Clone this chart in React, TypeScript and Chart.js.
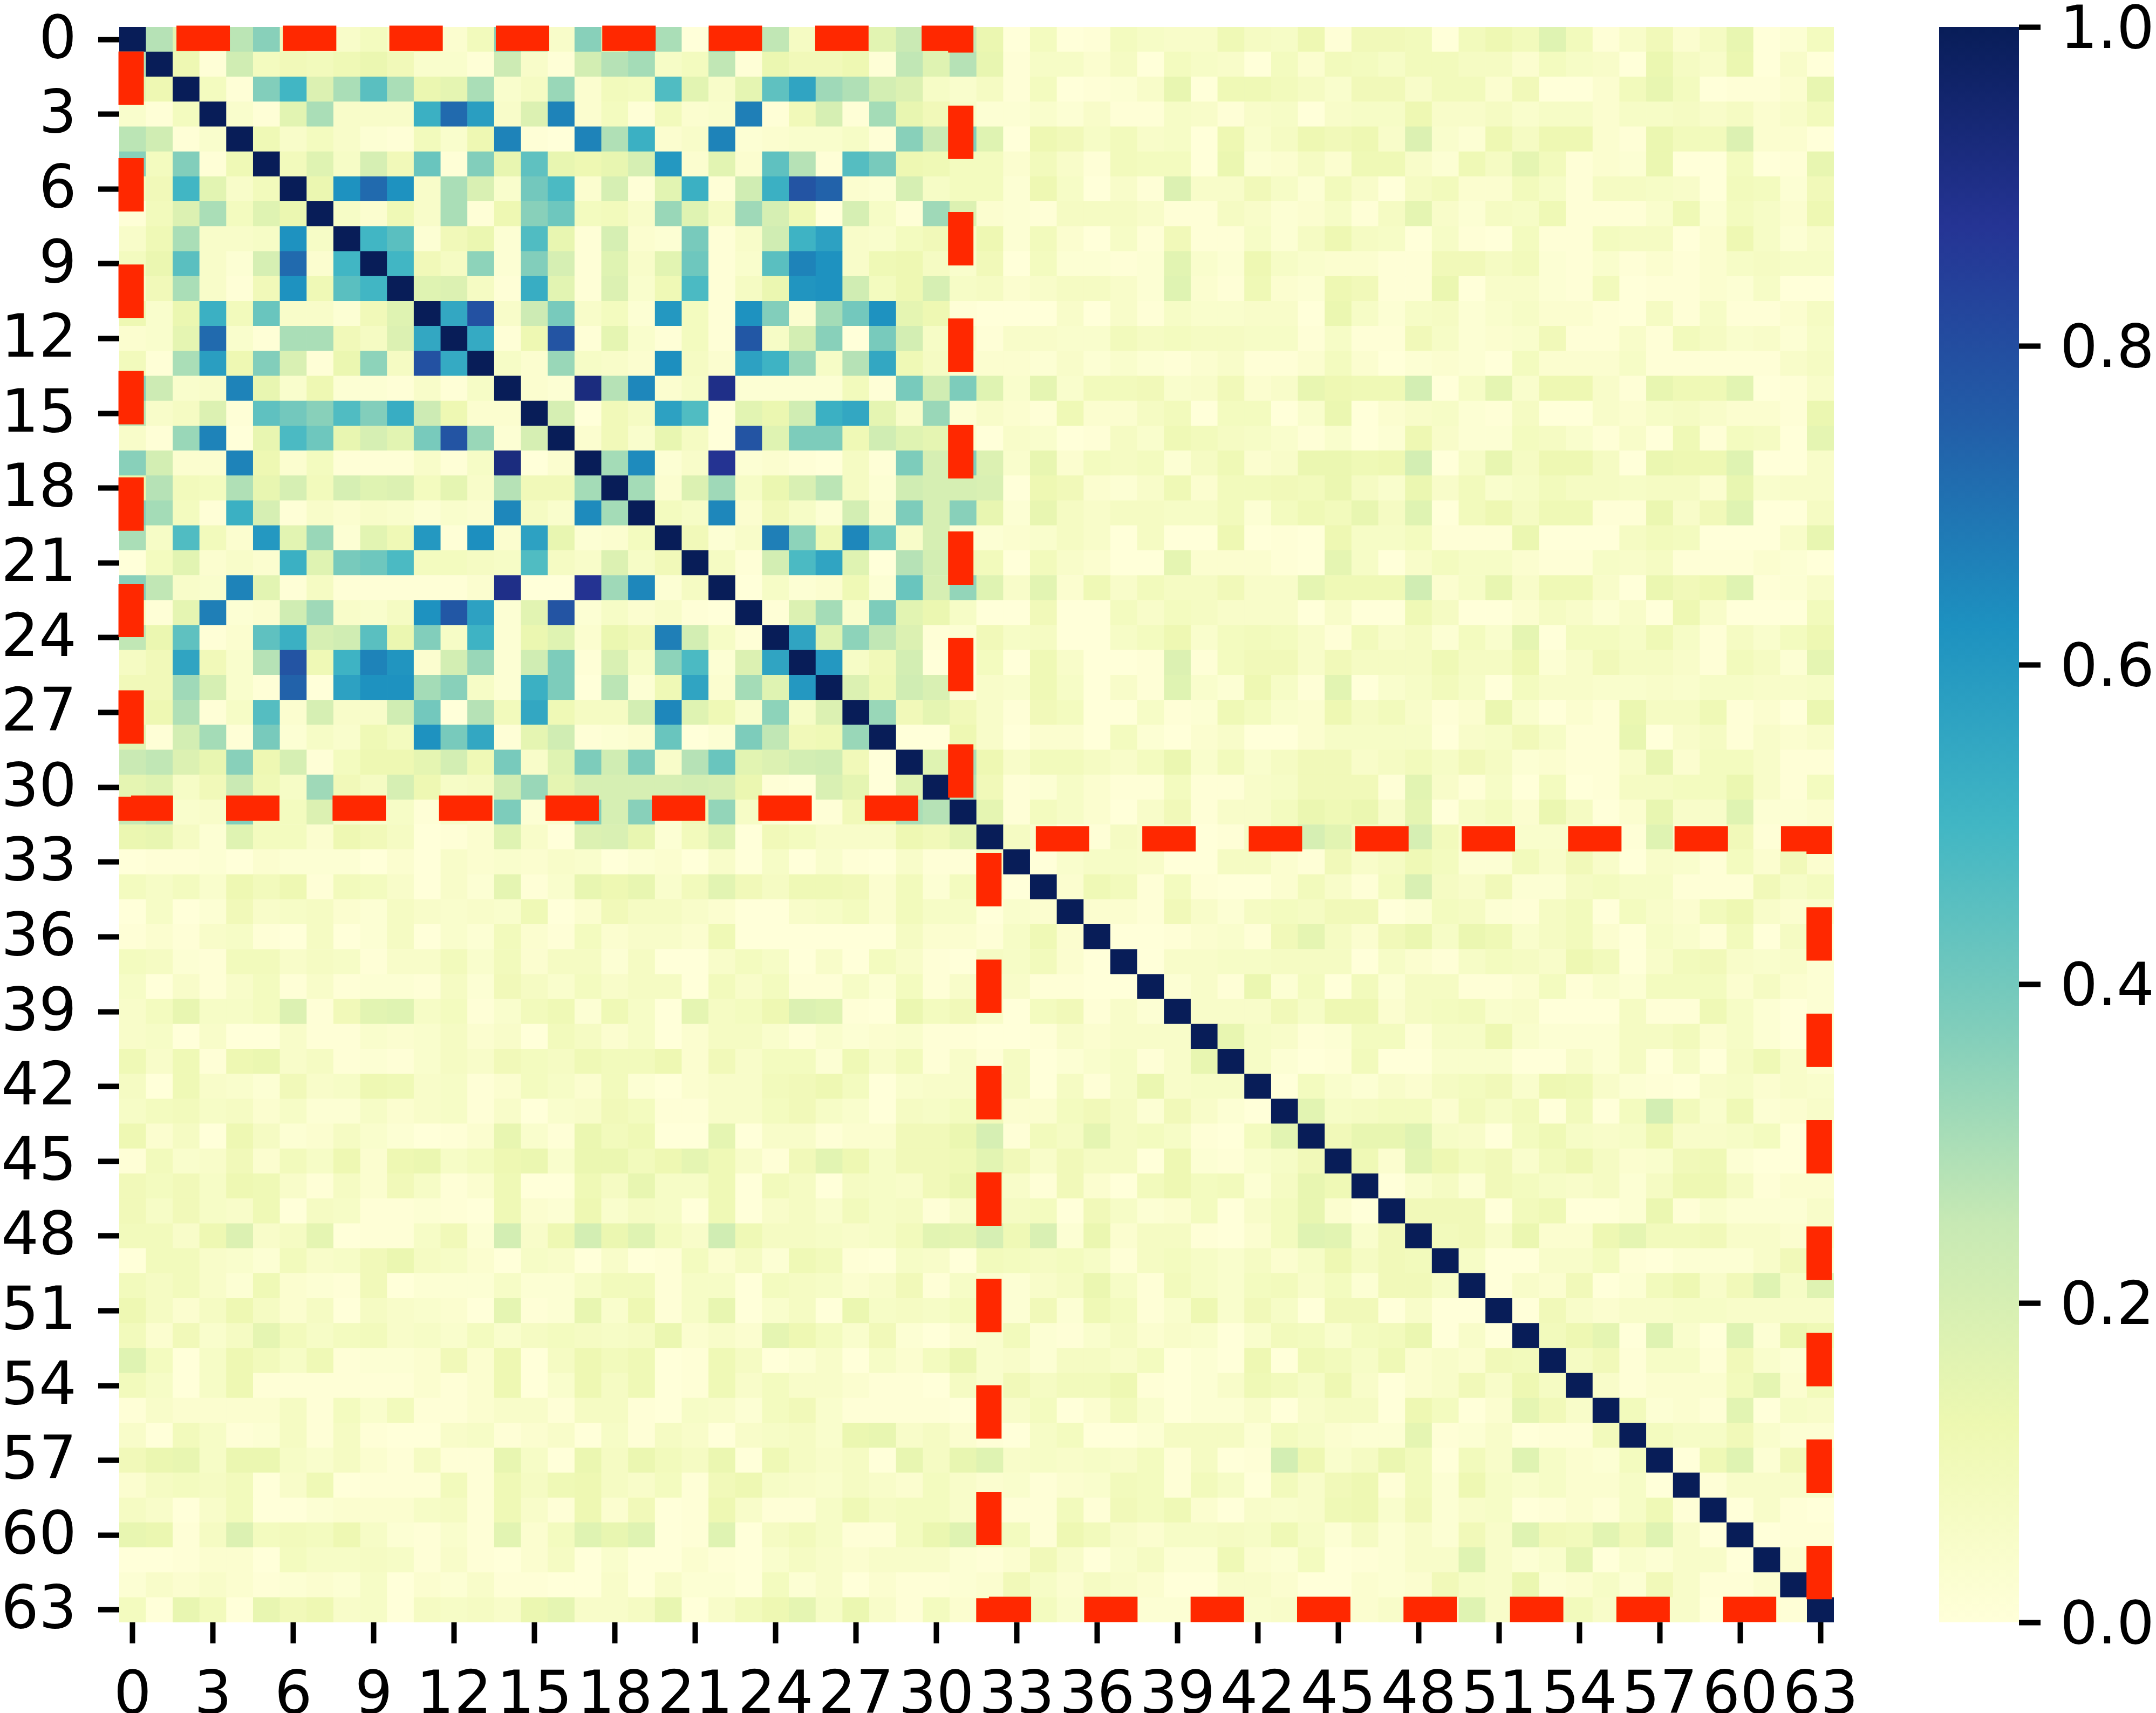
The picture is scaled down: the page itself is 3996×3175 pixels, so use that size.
import React, { useEffect, useRef } from "react";
import { Chart, registerables } from "chart.js";

Chart.register(...registerables);

// Upper triangle of the symmetric correlation matrix, in hundredths; the diagonal is 1.
// blockA: rows 0-30, columns r+1..31
const blockA: number[][] = [
  [28,16,4,27,36,8,1,5,8,5,12,3,9,36,27,5,36,13,36,30,0,36,6,26,7,10,10,16,24,15,25],
  [12,1,22,8,10,9,11,13,10,4,4,1,23,5,1,21,28,31,6,8,26,1,13,10,10,12,1,26,17,28],
  [8,1,37,50,18,30,45,30,13,15,30,4,7,33,3,9,8,47,16,5,15,44,56,32,29,21,18,6,4],
  [4,1,16,30,5,5,5,52,72,58,5,18,66,3,8,1,9,3,4,67,1,10,20,1,31,14,10,5],
  [11,5,8,5,2,1,9,4,12,66,1,0,66,29,52,3,5,66,2,3,4,4,6,1,36,24,37],
  [9,17,6,20,10,42,1,37,14,44,14,12,14,20,60,3,16,3,44,28,1,46,39,12,11,8],
  [13,62,72,62,5,30,19,4,40,48,3,20,1,16,52,1,22,52,78,74,3,2,20,6,8],
  [6,3,11,5,30,1,12,36,41,8,9,5,33,17,7,32,20,11,0,20,6,1,32,18],
  [50,45,2,10,13,2,47,14,1,20,3,2,39,1,5,22,51,57,5,4,8,10,5],
  [50,10,7,35,2,37,20,1,17,5,16,41,1,4,45,66,62,5,11,12,7,4],
  [17,18,7,1,53,16,1,18,4,11,48,1,7,13,61,62,22,8,12,20,6],
  [55,79,5,23,39,5,8,2,60,8,1,62,37,3,31,40,62,15,12,1],
  [54,1,12,78,1,15,4,1,8,1,77,6,21,36,0,39,21,6,5],
  [6,3,33,6,5,3,63,7,3,57,51,33,6,28,55,11,7,3],
  [3,2,92,28,65,3,6,90,2,2,2,2,9,1,39,22,38],
  [20,0,10,7,57,47,0,16,13,22,52,55,15,5,33,2],
  [3,10,4,14,7,0,78,17,38,38,11,22,17,15,3],
  [31,64,2,5,88,2,3,1,0,7,1,38,20,37],
  [31,3,18,32,6,13,19,27,7,2,22,20,20],
  [8,6,65,3,10,6,2,21,3,38,20,36],
  [10,2,5,67,35,11,65,42,5,20,2],
  [7,1,21,48,56,17,0,28,21,10],
  [0,6,2,3,11,2,42,20,34],
  [1,18,31,4,38,16,13,6],
  [56,17,35,26,18,1,2],
  [60,6,10,21,0,0],
  [18,11,22,19,1],
  [33,10,15,10],
  [0,0,12],
  [17,30],
  [28],
];

// crossAB: rows 0-31, columns 32-63
const crossAB: number[][] = [
  [13,0,8,0,1,8,6,5,5,11,7,6,12,1,10,10,9,0,9,12,9,17,9,1,5,10,3,7,14,0,2,8],
  [14,1,6,6,3,7,0,8,6,5,0,8,3,9,8,6,9,9,7,7,3,8,6,5,0,13,7,5,13,0,5,0],
  [7,1,8,0,1,2,5,14,0,11,11,9,7,4,10,10,5,9,9,3,10,0,0,3,9,14,8,0,1,1,3,14],
  [2,2,4,2,5,1,1,6,5,1,5,6,0,5,6,6,12,5,5,7,4,6,6,3,6,6,7,5,7,3,5,9],
  [17,0,12,10,6,9,5,6,0,12,4,7,12,10,12,5,18,4,2,12,7,12,12,3,1,13,9,9,18,3,3,0],
  [8,3,9,5,1,9,8,8,0,13,2,3,7,3,11,11,5,2,11,7,15,9,1,3,2,13,0,0,8,0,1,14],
  [8,2,12,6,0,5,1,18,5,5,10,6,2,9,5,0,7,9,3,3,9,6,1,7,7,6,5,0,9,8,2,10],
  [3,2,1,7,7,7,5,1,1,7,5,2,3,6,1,7,15,5,2,7,6,11,1,1,1,4,11,2,8,6,3,12],
  [12,2,9,3,0,6,1,10,1,1,6,2,7,12,7,6,0,6,1,0,8,1,1,8,7,7,0,3,12,6,2,5],
  [10,0,8,2,2,1,2,16,4,2,12,6,4,3,3,1,1,10,10,7,9,2,1,4,1,3,1,3,6,7,6,6],
  [7,3,5,7,7,5,2,17,3,1,11,3,2,12,10,1,1,13,0,5,5,2,1,9,0,1,1,3,2,6,0,0],
  [0,0,0,5,0,5,1,6,4,4,5,5,0,13,6,2,6,7,2,4,6,3,3,1,0,7,1,6,1,1,3,7],
  [1,5,5,4,4,9,7,8,7,7,6,6,1,6,1,1,10,6,2,3,4,10,1,1,5,1,9,7,4,5,2,6],
  [3,3,2,5,2,4,2,1,3,5,1,1,3,8,3,0,2,3,2,0,8,3,3,3,6,1,1,1,1,1,5,7],
  [17,4,15,4,9,9,10,4,5,10,3,5,14,12,11,11,21,0,6,15,4,12,12,5,1,14,11,11,16,0,1,5],
  [5,3,1,11,3,3,7,9,0,8,8,0,4,13,0,3,5,6,2,1,7,0,0,5,3,6,7,5,3,3,1,13],
  [0,5,4,0,1,7,4,11,9,7,6,4,1,4,0,2,12,5,2,2,8,7,4,1,5,0,11,1,8,7,0,15],
  [18,4,14,3,8,7,8,2,7,11,3,5,13,13,11,12,21,0,6,14,7,12,12,7,0,13,12,12,17,0,0,5],
  [19,0,12,10,3,2,5,11,3,9,9,10,9,13,7,4,13,5,9,4,6,9,7,7,6,7,7,3,14,4,5,5],
  [14,2,14,7,5,7,7,6,6,9,2,8,11,9,14,7,17,0,9,12,7,11,11,1,1,13,5,10,17,0,0,7],
  [2,3,4,7,5,0,7,0,0,12,0,1,0,12,6,6,8,1,1,1,13,0,0,0,7,9,8,0,0,0,5,14],
  [9,0,9,5,3,0,0,15,3,3,3,1,0,15,6,0,5,8,6,6,3,1,1,6,5,7,1,1,1,3,2,0],
  [17,5,16,3,11,5,9,7,7,10,5,5,15,11,11,11,22,3,6,14,5,11,11,5,0,13,10,12,17,1,2,5],
  [0,0,10,0,0,8,5,8,7,5,5,5,0,5,0,0,11,7,0,0,3,7,5,2,5,0,12,5,0,0,0,9],
  [10,6,7,0,0,6,8,12,4,8,9,8,5,1,9,5,7,2,8,4,15,0,8,8,6,11,6,1,7,4,8,12],
  [8,0,11,5,0,0,1,18,1,8,10,10,5,10,7,7,7,11,7,7,12,2,5,10,7,7,5,1,9,7,2,15],
  [5,4,11,6,0,5,1,17,4,2,12,6,1,16,0,4,6,9,6,0,8,5,5,4,4,5,4,6,6,5,5,6],
  [5,1,10,8,0,0,6,1,2,11,8,4,3,12,7,9,5,1,3,13,4,0,3,1,13,7,7,11,1,3,0,13],
  [5,0,3,3,0,8,2,0,3,5,0,0,3,6,6,6,6,0,5,6,10,6,1,1,14,0,5,7,1,5,3,5],
  [12,5,9,9,7,5,8,13,4,9,4,7,10,10,5,7,9,6,10,7,2,3,1,1,5,14,3,8,8,5,1,1],
  [10,1,2,6,3,1,1,8,1,1,5,6,10,10,10,1,16,5,1,6,0,8,0,1,7,7,8,8,13,5,1,8],
  [15,1,8,6,3,0,5,10,1,5,5,8,13,11,13,5,15,0,6,8,3,13,7,0,3,14,5,5,17,2,2,3],
];

// blockB: rows 32-62, columns r+1..63
const blockB: number[][] = [
  [7,4,0,1,7,5,5,0,1,6,10,20,16,8,8,20,9,3,3,4,4,4,4,1,17,3,3,10,1,3,4],
  [0,4,6,6,5,0,0,7,7,3,1,10,5,7,11,8,2,2,9,5,10,5,0,5,4,1,8,3,10,3],
  [3,11,9,1,8,1,0,0,3,9,5,1,8,19,7,5,10,2,2,7,8,6,6,1,1,1,10,6,8],
  [3,3,1,10,5,2,7,8,7,10,10,0,2,8,7,2,1,7,9,0,8,5,3,9,12,5,3,4],
  [0,0,1,3,4,1,10,15,7,3,10,13,6,13,11,4,7,9,3,0,6,4,1,9,0,7,0],
  [0,5,5,6,6,7,7,7,0,6,3,1,6,8,7,5,12,9,0,5,9,10,5,4,5,2],
  [2,5,1,13,2,8,0,9,2,7,7,1,1,3,8,1,4,2,8,8,8,3,7,3,2],
  [5,5,5,10,6,12,12,3,7,8,9,4,5,0,0,0,7,1,1,11,6,2,0,2],
  [14,6,5,1,2,8,8,1,6,6,12,4,2,2,2,7,7,9,3,6,2,0,2],
  [6,2,0,1,9,0,0,4,4,4,0,0,5,2,7,0,6,0,7,11,5,2],
  [0,8,4,2,5,3,7,8,10,4,12,11,5,2,1,0,5,6,3,5,4],
  [16,6,7,8,8,3,9,6,9,0,9,0,8,21,9,4,11,2,3,5],
  [10,14,14,17,6,5,0,8,11,6,5,6,12,5,5,6,8,0,3],
  [11,3,16,12,8,10,4,9,12,7,3,4,10,11,2,0,0,3],
  [0,4,7,2,10,8,6,5,7,2,7,12,12,7,1,3,3],
  [10,10,10,0,9,11,0,0,2,13,1,4,2,2,2,5],
  [9,10,5,13,3,3,12,15,9,9,10,5,5,3,5],
  [6,0,0,5,5,8,1,0,2,2,2,5,10,2],
  [0,5,3,10,0,2,9,12,5,10,17,6,17],
  [0,10,5,3,5,5,6,6,5,5,5,5],
  [9,12,15,0,17,4,0,17,2,13,11],
  [7,10,1,6,6,1,10,4,2,8],
  [5,1,3,3,3,9,15,3,9],
  [9,2,3,1,16,0,6,5],
  [8,6,6,10,4,2,2],
  [0,11,17,2,10,5],
  [1,5,5,5,5],
  [0,5,1,0],
  [0,1,1],
  [3,2],
  [1],
];

const xTickValues: number[] = [0,3,6,9,12,15,18,21,24,27,30,33,36,39,42,45,48,51,54,57,60,63];
const yTickValues: number[] = [0,3,6,9,12,15,18,21,24,27,30,33,36,39,42,45,48,51,54,57,60,63];
const colorbarTicks: number[] = [0,0.2,0.4,0.6,0.8,1];
const colormapStops: string[] = ["#ffffd9","#edf8b1","#c7e9b4","#7fcdbb","#41b6c4","#1d91c0","#225ea8","#253494","#081d58"];
// Dashed outlines, in cell units
const boxOneX: number[] = [0.444, 31.41];
const boxOneY: number[] = [0.455, 31.34];
const boxTwoX: number[] = [32.46, 63.45];
const boxTwoY: number[] = [32.57, 63.48];

const N = 64;
const FONT = { family: "'DejaVu Sans'", size: 110 };

function buildMatrix(): number[][] {
  const m: number[][] = Array.from({ length: N }, () => new Array(N).fill(0));
  for (let i = 0; i < N; i++) m[i][i] = 1;
  const put = (r: number, c: number, v: number | undefined) => {
    const val = (v ?? 0) / 100;
    m[r][c] = val;
    m[c][r] = val;
  };
  blockA.forEach((row, i) => row.forEach((v, j) => put(i, i + 1 + j, v)));
  crossAB.forEach((row, i) => row.forEach((v, j) => put(i, 32 + j, v)));
  blockB.forEach((row, i) => row.forEach((v, j) => put(32 + i, 32 + i + 1 + j, v)));
  return m;
}

function hexRgb(h: string): number[] {
  return [1, 3, 5].map((i) => parseInt(h.slice(i, i + 2), 16));
}

function colormap(v: number): string {
  const t = Math.min(1, Math.max(0, v)) * (colormapStops.length - 1);
  const i = Math.min(colormapStops.length - 2, Math.floor(t));
  const a = hexRgb(colormapStops[i]);
  const b = hexRgb(colormapStops[i + 1]);
  const f = t - i;
  return `rgb(${a.map((q, k) => Math.round(q + (b[k] - q) * f)).join(",")})`;
}

const boxPath = (xs: number[], ys: number[]) => [
  { x: xs[0], y: ys[0] },
  { x: xs[1], y: ys[0] },
  { x: xs[1], y: ys[1] },
  { x: xs[0], y: ys[1] },
  { x: xs[0], y: ys[0] },
];

const boxDataset = (xs: number[], ys: number[], offset: number) => ({
  type: "scatter" as const,
  data: boxPath(xs, ys),
  showLine: true,
  fill: false,
  borderColor: "rgb(255,40,0)",
  borderWidth: 47,
  borderDash: [99, 98.3],
  borderDashOffset: offset,
  borderCapStyle: "butt" as const,
  borderJoinStyle: "miter" as const,
  pointRadius: 0,
  tension: 0,
  order: -1,
  clip: false as const,
});

// Nudges the y-axis tick labels down by a few pixels relative to their tick marks.
const labelNudge = (dy: number) => ({
  id: "labelNudge",
  beforeDraw(chart: any) {
    const s = chart.scales.y;
    if (s.__nudged) return;
    s.__nudged = true;
    s.getLabelItems().forEach((it: any) => {
      it.options.translation[1] += dy;
    });
  },
});

export default function App() {
  const mainRef = useRef<HTMLCanvasElement | null>(null);
  const barRef = useRef<HTMLCanvasElement | null>(null);

  useEffect(() => {
    const matrix = buildMatrix();
    const points: { x: number; y: number[] }[] = [];
    const colors: string[] = [];
    matrix.forEach((row, r) =>
      row.forEach((v, c) => {
        points.push({ x: c + 0.5, y: [r, r + 1] });
        colors.push(colormap(v));
      })
    );

    const tickGrid = {
      display: true,
      drawOnChartArea: false,
      drawTicks: true,
      offset: false,
      tickLength: 39,
      tickWidth: 10,
      tickColor: "#000",
    };

    const main = new Chart(mainRef.current as HTMLCanvasElement, {
      type: "bar",
      plugins: [labelNudge(5)],
      data: {
        datasets: [
          {
            type: "bar",
            data: points as any,
            backgroundColor: colors,
            borderWidth: 0,
            barPercentage: 1,
            categoryPercentage: 1,
            order: 1,
          },
          boxDataset(boxOneX, boxOneY, 113.3) as any,
          boxDataset(boxTwoX, boxTwoY, 110.3) as any,
        ],
      },
      options: {
        responsive: false,
        animation: false,
        devicePixelRatio: 1,
        layout: { padding: { left: 0, top: 50, right: 101, bottom: 0 } },
        plugins: { legend: { display: false }, tooltip: { enabled: false } },
        scales: {
          x: {
            type: "linear",
            min: 0,
            max: N,
            offset: false,
            position: "bottom",
            afterBuildTicks: (s: any) => {
              s.ticks = xTickValues.map((v) => ({ value: v + 0.5 }));
            },
            afterFit: (s: any) => {
              s.height = 168;
              s.paddingLeft = 0;
              s.paddingRight = 0;
            },
            ticks: {
              autoSkip: false,
              maxRotation: 0,
              minRotation: 0,
              padding: 34,
              color: "#000",
              font: FONT,
              callback: (v: any) => String(Number(v) - 0.5),
            },
            grid: tickGrid,
            border: { display: false },
          },
          y: {
            type: "linear",
            min: 0,
            max: N,
            reverse: true,
            position: "left",
            afterBuildTicks: (s: any) => {
              s.ticks = yTickValues.map((v) => ({ value: v + 0.5 }));
            },
            afterFit: (s: any) => {
              s.width = 221;
              s.paddingTop = 0;
              s.paddingBottom = 0;
            },
            ticks: {
              autoSkip: false,
              padding: 40,
              color: "#000",
              font: FONT,
              callback: (v: any) => String(Number(v) - 0.5),
            },
            grid: tickGrid,
            border: { display: false },
          },
        },
      },
    } as any);

    const bar = new Chart(barRef.current as HTMLCanvasElement, {
      type: "bar",
      plugins: [labelNudge(10)],
      data: {
        labels: ["colorbar"],
        datasets: [
          {
            data: [[0, 1]] as any,
            borderWidth: 0,
            barPercentage: 1,
            categoryPercentage: 1,
            backgroundColor: (ctx: any) => {
              const area = ctx.chart.chartArea;
              if (!area) return colormapStops[0];
              const g = ctx.chart.ctx.createLinearGradient(0, area.bottom, 0, area.top);
              colormapStops.forEach((c, i) => g.addColorStop(i / (colormapStops.length - 1), c));
              return g;
            },
          },
        ],
      },
      options: {
        responsive: false,
        animation: false,
        devicePixelRatio: 1,
        layout: { padding: { left: 94, top: 50, right: 0, bottom: 168 } },
        plugins: { legend: { display: false }, tooltip: { enabled: false } },
        scales: {
          x: { display: false },
          y: {
            type: "linear",
            min: 0,
            max: 1,
            position: "right",
            afterBuildTicks: (s: any) => {
              s.ticks = colorbarTicks.map((v) => ({ value: v }));
            },
            afterFit: (s: any) => {
              s.width = 254;
              s.paddingTop = 0;
              s.paddingBottom = 0;
            },
            ticks: {
              autoSkip: false,
              padding: 36,
              color: "#000",
              font: FONT,
              callback: (v: any) => Number(v).toFixed(1),
            },
            grid: { ...tickGrid, tickLength: 40 },
            border: { display: false },
          },
        },
      },
    } as any);

    return () => {
      main.destroy();
      bar.destroy();
    };
  }, []);

  return (
    <div style={{ position: "absolute", left: 0, top: 0, width: 3996, height: 3175, overflow: "hidden", background: "#fff" }}>
      <canvas ref={mainRef} width={3500} height={3175} style={{ position: "absolute", left: 0, top: 0, display: "block" }} />
      <canvas ref={barRef} width={496} height={3175} style={{ position: "absolute", left: 3500, top: 0, display: "block" }} />
    </div>
  );
}
